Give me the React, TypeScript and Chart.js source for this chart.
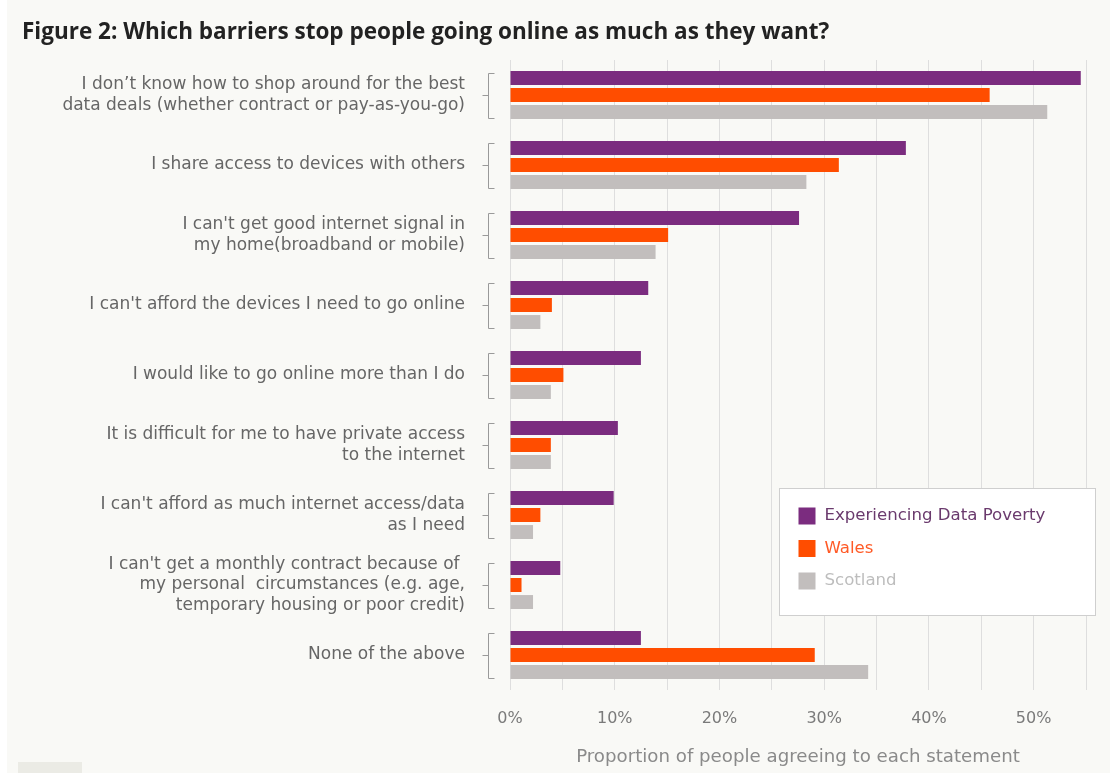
import { useEffect, useRef } from 'react';
import { Chart, registerables } from 'chart.js';

Chart.register(...registerables);

// ---- data ----
const categories: (string | string[])[] = [
  ['I don’t know how to shop around for the best', 'data deals (whether contract or pay-as-you-go)'],
  'I share access to devices with others',
  ["I can't get good internet signal in", 'my home(broadband or mobile)'],
  "I can't afford the devices I need to go online",
  'I would like to go online more than I do',
  ['It is difficult for me to have private access', 'to the internet'],
  ["I can't afford as much internet access/data", 'as I need'],
  ["I can't get a monthly contract because of ", 'my personal  circumstances (e.g. age,', 'temporary housing or poor credit)'],
  'None of the above',
];

const seriesNames = ['Experiencing Data Poverty', 'Wales', 'Scotland'];
const dataPoverty = [54.5, 37.8, 27.6, 13.2, 12.5, 10.3, 9.9, 4.8, 12.5];
const wales = [45.8, 31.4, 15.1, 4.0, 5.1, 3.9, 2.9, 1.1, 29.1];
const scotland = [51.3, 28.3, 13.9, 2.9, 3.9, 3.9, 2.2, 2.2, 34.2];
const xTickLabels = [0, 10, 20, 30, 40, 50];

const titleText = 'Figure 2: Which barriers stop people going online as much as they want?';
const xAxisTitle = 'Proportion of people agreeing to each statement';

const barColors = ['#7b2c7f', '#ff4d00', '#c2bebd'];
const legendTextColors = ['#6a3a6d', '#ff5a26', '#bdbdbd'];

const FONT = '"DejaVu Sans", sans-serif';

const bracketPlugin = {
  id: 'brackets',
  afterDraw(chart: any) {
    const { ctx, chartArea } = chart;
    const ys = chart.scales.y;
    const vx = Math.round(chartArea.left - 22) + 0.5;
    ctx.save();
    ctx.strokeStyle = '#9a9a9a';
    ctx.lineWidth = 1;
    ys.ticks.forEach((_t: any, i: number) => {
      const yc = ys.getPixelForTick(i);
      const top = Math.round(yc - 22) + 0.5;
      const bot = Math.round(yc + 23) + 0.5;
      const mid = Math.round(yc) + 0.5;
      ctx.beginPath();
      ctx.moveTo(vx + 6, top);
      ctx.lineTo(vx, top);
      ctx.lineTo(vx, bot);
      ctx.lineTo(vx + 6, bot);
      ctx.moveTo(vx - 6, mid);
      ctx.lineTo(vx, mid);
      ctx.stroke();
    });
    ctx.restore();
  },
};

const boxLegendPlugin = {
  id: 'boxLegend',
  afterDatasetsDraw(chart: any) {
    const { ctx, chartArea } = chart;
    const x = chartArea.left + 269.5;
    const y = 488.5;
    const w = 316;
    const h = 127;
    ctx.save();
    ctx.fillStyle = '#ffffff';
    ctx.fillRect(x, y, w, h);
    ctx.strokeStyle = '#cfcfcf';
    ctx.lineWidth = 1;
    ctx.strokeRect(x, y, w, h);
    ctx.font = `16.6px ${FONT}`;
    ctx.textBaseline = 'middle';
    ctx.textAlign = 'left';
    chart.data.datasets.forEach((ds: any, i: number) => {
      const cy = 516 + i * 32.5;
      ctx.fillStyle = ds.backgroundColor;
      ctx.fillRect(x + 19, cy - 8.5, 17, 17);
      ctx.fillStyle = legendTextColors[i];
      ctx.fillText(ds.label, x + 45, cy);
    });
    ctx.restore();
  },
};

export default function App() {
  const ref = useRef<HTMLCanvasElement>(null);

  useEffect(() => {
    const chart = new Chart(ref.current as HTMLCanvasElement, {
      type: 'bar',
      data: {
        labels: categories,
        datasets: [
          { label: seriesNames[0], data: dataPoverty, backgroundColor: barColors[0] },
          { label: seriesNames[1], data: wales, backgroundColor: barColors[1] },
          { label: seriesNames[2], data: scotland, backgroundColor: barColors[2] },
        ],
      },
      options: {
        indexAxis: 'y',
        responsive: false,
        animation: false,
        devicePixelRatio: 1,
        datasets: {
          bar: { categoryPercentage: 0.73, barPercentage: 0.82 },
        },
        layout: { padding: { left: 22, right: 24, top: 0, bottom: 0 } },
        plugins: {
          legend: { display: false },
          tooltip: { enabled: false },
          title: {
            display: true,
            text: titleText,
            align: 'start',
            color: '#222222',
            font: { family: '"Open Sans", sans-serif', size: 22.5, weight: 'bold', lineHeight: 1.2 },
            padding: { top: 19.5, bottom: 13.5 },
          },
        },
        scales: {
          x: {
            type: 'linear',
            min: 0,
            max: 55,
            grid: { color: '#dedede', lineWidth: 1, drawTicks: false },
            border: { display: false },
            ticks: {
              stepSize: 5,
              autoSkip: false,
              maxRotation: 0,
              padding: 19,
              color: '#7a7a7a',
              font: { family: FONT, size: 16 },
              callback: (v: any) => (xTickLabels.includes(Number(v)) ? `${v}%` : ''),
            },
            title: {
              display: true,
              text: xAxisTitle,
              color: '#8a8a8a',
              font: { family: FONT, size: 18.2 },
              padding: { top: 10, bottom: 5 },
            },
            afterFit: (s: any) => {
              s.height = 83;
            },
          },
          y: {
            type: 'category',
            grid: { display: false, drawTicks: false },
            border: { display: false },
            ticks: {
              padding: 45,
              color: '#666666',
              font: { family: FONT, size: 17, lineHeight: 1.21 },
              autoSkip: false,
            },
            afterFit: (s: any) => {
              s.width = 488;
            },
          },
        },
      },
      plugins: [bracketPlugin, boxLegendPlugin],
    });
    return () => chart.destroy();
  }, []);

  return (
    <div
      style={{
        position: 'fixed',
        left: 0,
        top: 0,
        width: 1110,
        height: 773,
        background: '#f9f9f6',
        overflow: 'hidden',
      }}
    >
      <div style={{ position: 'absolute', left: 0, top: 0, width: 7, height: 773, background: '#ffffff' }} />
      <div style={{ position: 'absolute', left: 18, top: 762, width: 64, height: 11, background: '#ebebe5' }} />
      <canvas
        ref={ref}
        width={1110}
        height={773}
        style={{ position: 'absolute', left: 0, top: 0, width: 1110, height: 773 }}
      />
    </div>
  );
}
